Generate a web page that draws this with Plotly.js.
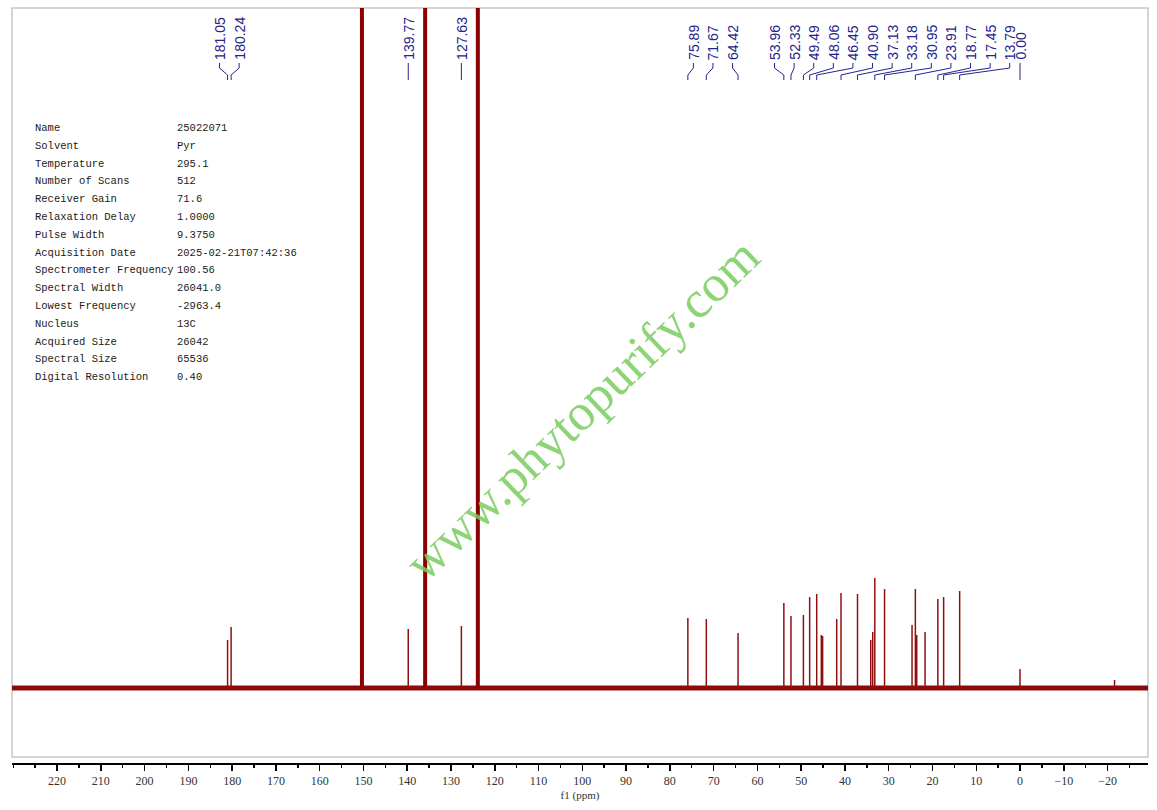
<!DOCTYPE html>
<html>
<head>
<meta charset="utf-8">
<script src="https://cdn.plot.ly/plotly-3.0.1.min.js"></script>
<style>html,body{margin:0;padding:0;background:#fff;}#chart{width:1157px;height:810px;}</style>
</head>
<body>
<div id="chart"></div>
<script>
// ---------- data ----------
// labelled peaks (ppm) and their heights above baseline (relative intensity)
const labelShifts = [181.05, 180.24, 139.77, 127.63, 75.89, 71.67, 64.42, 53.96, 52.33, 49.49, 48.06, 46.45, 40.90, 37.13, 33.18, 30.95, 23.91, 18.77, 17.45, 13.79, 0.00];
const labelHeights = [48, 61, 59, 62, 70, 69, 55, 85, 72, 73, 91, 94, 95, 94, 110, 99, 99, 89, 91, 97, 19];
// other (unlabelled) peaks
const otherShifts = [45.40, 45.10, 41.88, 34.10, 33.65, 24.67, 23.60, 21.70, -21.6];
const otherHeights = [53, 52, 69, 48, 56, 63, 53, 56, 8];
// solvent (pyridine) peaks, off scale
const solventShifts = [150.35, 135.91, 123.87];
const solventHeights = [3000, 3000, 3000];
const REFERENCE_SHIFT = 0.00;   // TMS reference peak

// axis tick labels
const tickValues = [220, 210, 200, 190, 180, 170, 160, 150, 140, 130, 120, 110, 100, 90, 80, 70, 60, 50, 40, 30, 20, 10, 0, -10, -20];
const tickLabels = ["220", "210", "200", "190", "180", "170", "160", "150", "140", "130", "120", "110", "100", "90", "80", "70", "60", "50", "40", "30", "20", "10", "0", "\u221210", "\u221220"];

// acquisition parameters
const paramNames = ["Name", "Solvent", "Temperature", "Number of Scans", "Receiver Gain", "Relaxation Delay", "Pulse Width", "Acquisition Date", "Spectrometer Frequency", "Spectral Width", "Lowest Frequency", "Nucleus", "Acquired Size", "Spectral Size", "Digital Resolution"];
const paramValues = ["25022071", "Pyr", "295.1", "512", "71.6", "1.0000", "9.3750", "2025-02-21T07:42:36", "100.56", "26041.0", "-2963.4", "13C", "26042", "65536", "0.40"];

const watermark = "www.phytopurify.com";
const axisTitle = "f1 (ppm)";

// ---------- layout geometry ----------
const W = 1157, H = 810;
const M = {l: 12, r: 9, t: 8, b: 47};
const plotW = W - M.l - M.r, plotH = H - M.t - M.b;
const xRange = [230.3, -29.24];
const yRange = [-75, 680];
const py = p => (H - M.b - p) / plotH;       // pixel row -> paper y
const px = p => (p - M.l) / plotW;           // pixel col -> paper x
const ppmPerPx = (xRange[0] - xRange[1]) / plotW;

const red = "#8b0000";
const navy = "#24248c";

// ---------- traces ----------
function sticks(xs, hs) {
  const x = [], y = [];
  xs.forEach((v, i) => { x.push(v, v, null); y.push(0, hs[i], null); });
  return {x, y};
}
const small = sticks(labelShifts.concat(otherShifts), labelHeights.concat(otherHeights));
const solv = sticks(solventShifts, solventHeights);

const traces = [
  {x: [xRange[0], xRange[1]], y: [0, 0], mode: "lines", line: {color: "#8e0a0a", width: 5}, hoverinfo: "skip", showlegend: false},
  {x: small.x, y: small.y, mode: "lines", line: {color: "#901010", width: 1.5}, hoverinfo: "skip", showlegend: false},
  {x: solv.x, y: solv.y, mode: "lines", line: {color: red, width: 4}, hoverinfo: "skip", showlegend: false}
];

// ---------- peak label placement ----------
// peaks closer than GROUP_GAP ppm share a label group; labels in a group are spread
// evenly (one slot apart) around the middle of the group's extent.
const slot = 19.6 * ppmPerPx;
const GROUP_GAP = 10;
const sorted = labelShifts.filter(v => v !== REFERENCE_SHIFT).sort((a, b) => b - a);
const groups = [];
sorted.forEach(v => {
  const g = groups[groups.length - 1];
  if (!g || g[g.length - 1] - v > GROUP_GAP) groups.push([v]); else g.push(v);
});
// the reference peak reserves a slot in its neighbouring group, but its label stays on the peak
if (labelShifts.includes(REFERENCE_SHIFT)) {
  let best = null, bestD = Infinity;
  groups.forEach(g => { const d = Math.min(...g.map(v => Math.abs(v - REFERENCE_SHIFT))); if (d < bestD) { bestD = d; best = g; } });
  best.push(REFERENCE_SHIFT); best.sort((a, b) => b - a);
}
const labelPos = [];
groups.forEach(g => {
  const c = (g[0] + g[g.length - 1]) / 2, n = g.length;
  g.forEach((v, k) => labelPos.push({v, x: v === REFERENCE_SHIFT ? v : c + ((n - 1) / 2 - k) * slot}));
});

const annotations = [];
const shapes = [];
const yText = py(61), y1 = py(63), y2 = py(68), y3 = py(75), y4 = py(80);
labelPos.forEach(L => {
  annotations.push({x: L.x, y: yText, xref: "x", yref: "paper", text: L.v.toFixed(2), textangle: -90,
    xanchor: "center", yanchor: "bottom", showarrow: false, borderpad: 0,
    font: {family: "Liberation Sans, Arial, sans-serif", size: 14, color: navy}});
  shapes.push({type: "path", xref: "x", yref: "paper",
    path: `M ${L.x},${y1} L ${L.x},${y2} L ${L.v},${y3} L ${L.v},${y4}`,
    line: {color: navy, width: 1}});
});

// frame
shapes.push({type: "rect", xref: "paper", yref: "paper", x0: 0, x1: 1, y0: py(757), y1: 1,
  line: {color: "#c8c8c8", width: 1.5}, layer: "below"});

// parameter table
paramNames.forEach((n, i) => {
  const yy = py(128 + i * 17.8);
  annotations.push({x: px(34), y: yy, xref: "paper", yref: "paper", text: n, showarrow: false,
    xanchor: "left", yanchor: "middle", borderpad: 0,
    font: {family: "Liberation Mono, monospace", size: 10.5, color: "#1a1a1a"}});
  annotations.push({x: px(176), y: yy, xref: "paper", yref: "paper", text: paramValues[i], showarrow: false,
    xanchor: "left", yanchor: "middle", borderpad: 0,
    font: {family: "Liberation Mono, monospace", size: 10.5, color: "#1a1a1a"}});
});

// watermark
annotations.push({x: px(582), y: py(410), xref: "paper", yref: "paper", text: watermark, showarrow: false,
  textangle: -43.8, xanchor: "center", yanchor: "middle",
  font: {family: "Liberation Serif, serif", size: 52, color: "rgba(120,205,95,0.85)"}});

const layout = {
  width: W, height: H,
  margin: M,
  paper_bgcolor: "#fff", plot_bgcolor: "#fff",
  showlegend: false,
  xaxis: {
    range: xRange, tickmode: "array", tickvals: tickValues, ticktext: tickLabels,
    showgrid: false, zeroline: false,
    showline: true, linecolor: "#000", linewidth: 2,
    ticks: "outside", ticklen: 6, tickwidth: 1.5, tickcolor: "#000",
    minor: {dtick: 5, tick0: 0, ticks: "outside", ticklen: 3, tickwidth: 1.5, tickcolor: "#000", showgrid: false},
    tickfont: {family: "Liberation Serif, serif", size: 12, color: "#333"},
    title: {text: axisTitle, font: {family: "Liberation Serif, serif", size: 11, color: "#333"}, standoff: 4},
    fixedrange: true
  },
  yaxis: {range: yRange, visible: false, showgrid: false, zeroline: false, fixedrange: true},
  annotations, shapes
};

Plotly.newPlot("chart", traces, layout, {staticPlot: true, displayModeBar: false});
</script>
</body>
</html>
